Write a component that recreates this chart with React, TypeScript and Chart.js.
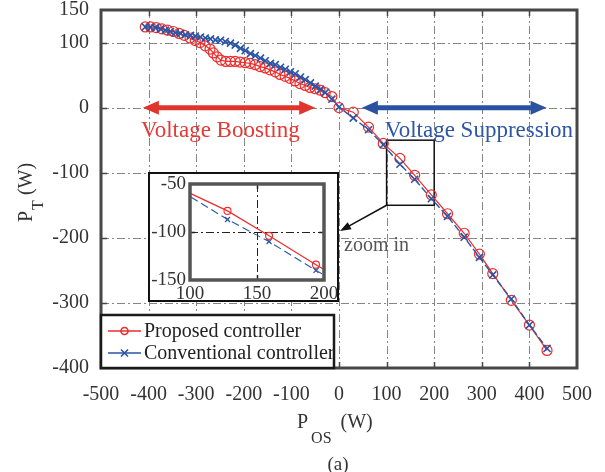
import React, { useEffect, useRef } from "react";
import { Chart, registerables } from "chart.js";

Chart.register(...registerables);

// ---------------- Data ----------------
const seriesLabels = ["Proposed controller", "Conventional controller"];

const proposedX = [
  -407, -396, -384, -372, -360, -348, -336, -325, -313, -302, -292, -281, -271, -264, -256, -248,
  -238, -228, -218, -208, -197, -187, -176, -166, -155, -145, -134, -124, -113, -103, -92, -82,
  -71, -61, -50, -40, -29, -15, 0, 30, 62, 93, 128, 159, 194, 228, 263, 295, 323, 362, 400, 437,
];
const proposedY = [
  124, 124, 123, 121, 119, 117, 114, 111, 107, 103, 100, 95, 90, 84, 78, 73,
  71, 71, 71, 70, 69, 68, 66, 63, 61, 58, 55, 51, 48, 45, 41, 37,
  34, 31, 29, 27, 23, 17, 0, -7, -30, -55, -78, -104, -134, -163, -193, -225, -255, -296, -334, -373,
];

const conventionalX = [
  -407, -396, -386, -375, -365, -354, -344, -333, -323, -312, -302, -291, -281, -270, -260, -249,
  -239, -228, -218, -207, -197, -186, -176, -165, -155, -144, -134, -123, -113, -102, -92, -81,
  -71, -60, -50, -39, -29, -15, 0, 30, 62, 93, 128, 159, 194, 228, 263, 295, 323, 362, 400, 437,
];
const conventionalY = [
  124, 123.5, 123, 121, 119, 117, 115, 114, 112, 111, 110, 108.5, 107, 105.5, 104, 103.5,
  101.5, 99, 96, 91, 87.5, 83, 80, 76, 72, 68, 66, 62, 59, 55, 52, 47,
  43, 38, 33, 28, 23, 13, 1, -16, -34, -57, -87, -110, -140, -167, -199, -230, -257, -294, -334, -370,
];

const xTicks = [-500, -400, -300, -200, -100, 0, 100, 200, 300, 400, 500];
const yTicks = [150, 100, 0, -100, -200, -300, -400];
const insetXTicks = [100, 150, 200];
const insetYTicks = [-50, -100, -150];

const boostRange = [-412, -50];
const suppressRange = [48, 436];
const zoomBoxX = [100, 200];
const zoomBoxY = [-150, -50];

const annotationTexts = ["Voltage Boosting", "Voltage Suppression", "zoom in"];

// ---------------- Styles ----------------
const FONT = '"Liberation Serif", "Times New Roman", serif';
const RED = "#ee2c2c";
const BLUE = "#2a55a5";
const ARROW_RED = "#e0342c";
const ARROW_BLUE = "#2b52a0";
const AXIS = "#474747";
const TEXT = "#333333";
const GRID = "#858585";
const GRID_DASH = [8, 3, 2, 3];

function drawDoubleArrow(ctx: CanvasRenderingContext2D, x1: number, x2: number, y: number, color: string) {
  const headLen = 16;
  const headHalf = 7;
  ctx.save();
  ctx.setLineDash([]);
  ctx.strokeStyle = color;
  ctx.fillStyle = color;
  ctx.lineWidth = 5;
  ctx.beginPath();
  ctx.moveTo(x1 + headLen - 2, y);
  ctx.lineTo(x2 - headLen + 2, y);
  ctx.stroke();
  ctx.beginPath();
  ctx.moveTo(x1, y);
  ctx.lineTo(x1 + headLen, y - headHalf);
  ctx.lineTo(x1 + headLen, y + headHalf);
  ctx.closePath();
  ctx.fill();
  ctx.beginPath();
  ctx.moveTo(x2, y);
  ctx.lineTo(x2 - headLen, y - headHalf);
  ctx.lineTo(x2 - headLen, y + headHalf);
  ctx.closePath();
  ctx.fill();
  ctx.restore();
}

const mainDecor = {
  id: "mainDecor",
  beforeDatasetsDraw(chart: any) {
    const { ctx, chartArea: a, scales } = chart;
    const xs = scales.x;
    const ys = scales.y;
    ctx.save();
    // grid
    ctx.strokeStyle = GRID;
    ctx.lineWidth = 1;
    ctx.setLineDash(GRID_DASH);
    xTicks.slice(1, -1).forEach((v) => {
      const px = Math.round(xs.getPixelForValue(v)) + 0.5;
      ctx.beginPath();
      ctx.moveTo(px, a.top);
      ctx.lineTo(px, a.bottom);
      ctx.stroke();
    });
    yTicks.slice(1, -1).forEach((v) => {
      const py = Math.round(ys.getPixelForValue(v)) + 0.5;
      ctx.beginPath();
      ctx.moveTo(a.left, py);
      ctx.lineTo(a.right, py);
      ctx.stroke();
    });
    ctx.setLineDash([]);
    // inward ticks
    ctx.strokeStyle = AXIS;
    ctx.lineWidth = 1.5;
    const tl = 6;
    xTicks.slice(1, -1).forEach((v) => {
      const px = Math.round(xs.getPixelForValue(v)) + 0.5;
      ctx.beginPath();
      ctx.moveTo(px, a.bottom);
      ctx.lineTo(px, a.bottom - tl);
      ctx.moveTo(px, a.top);
      ctx.lineTo(px, a.top + tl);
      ctx.stroke();
    });
    yTicks.slice(1, -1).forEach((v) => {
      const py = Math.round(ys.getPixelForValue(v)) + 0.5;
      ctx.beginPath();
      ctx.moveTo(a.left, py);
      ctx.lineTo(a.left + tl, py);
      ctx.moveTo(a.right, py);
      ctx.lineTo(a.right - tl, py);
      ctx.stroke();
    });
    // zoom rectangle
    const rx1 = xs.getPixelForValue(zoomBoxX[0]);
    const rx2 = xs.getPixelForValue(zoomBoxX[1]);
    const ry1 = ys.getPixelForValue(zoomBoxY[1]);
    const ry2 = ys.getPixelForValue(zoomBoxY[0]);
    ctx.strokeStyle = "#111";
    ctx.lineWidth = 1.5;
    ctx.strokeRect(rx1, ry1, rx2 - rx1, ry2 - ry1);
    // arrows
    const y0 = ys.getPixelForValue(0);
    drawDoubleArrow(ctx, xs.getPixelForValue(boostRange[0]), xs.getPixelForValue(boostRange[1]), y0, ARROW_RED);
    drawDoubleArrow(ctx, xs.getPixelForValue(suppressRange[0]), xs.getPixelForValue(suppressRange[1]), y0, ARROW_BLUE);
    // labels
    ctx.font = `23px ${FONT}`;
    ctx.textAlign = "left";
    ctx.textBaseline = "alphabetic";
    ctx.fillStyle = "#e23a34";
    ctx.fillText(annotationTexts[0], 141, 137);
    ctx.fillStyle = "#2d56a3";
    ctx.fillText(annotationTexts[1], 385, 137);
    ctx.restore();
  },
  afterDatasetsDraw(chart: any) {
    const { ctx, chartArea: a, scales } = chart;
    const xs = scales.x;
    const ys = scales.y;
    ctx.save();
    // border
    ctx.strokeStyle = AXIS;
    ctx.lineWidth = 3;
    ctx.strokeRect(a.left, a.top, a.right - a.left, a.bottom - a.top);

    // zoom-in arrow
    const sx = xs.getPixelForValue(zoomBoxX[0]);
    const sy = ys.getPixelForValue(zoomBoxY[0]);
    const ex = 340;
    const ey = 231;
    const ang = Math.atan2(ey - sy, ex - sx);
    ctx.strokeStyle = "#111";
    ctx.fillStyle = "#111";
    ctx.lineWidth = 1.5;
    ctx.beginPath();
    ctx.moveTo(sx, sy);
    ctx.lineTo(ex - 8 * Math.cos(ang), ey - 8 * Math.sin(ang));
    ctx.stroke();
    ctx.beginPath();
    ctx.moveTo(ex, ey);
    ctx.lineTo(ex - 11 * Math.cos(ang) + 4 * Math.sin(ang), ey - 11 * Math.sin(ang) - 4 * Math.cos(ang));
    ctx.lineTo(ex - 11 * Math.cos(ang) - 4 * Math.sin(ang), ey - 11 * Math.sin(ang) + 4 * Math.cos(ang));
    ctx.closePath();
    ctx.fill();
    ctx.font = `20px ${FONT}`;
    ctx.fillStyle = "#555";
    ctx.textAlign = "left";
    ctx.textBaseline = "alphabetic";
    ctx.fillText(annotationTexts[2], 344, 251);

    // legend
    const lx = a.left;
    const ly = 315;
    const lw = 233;
    const lh = a.bottom - ly;
    ctx.fillStyle = "#fff";
    ctx.fillRect(lx, ly, lw, lh);
    ctx.strokeStyle = "#1a1a1a";
    ctx.lineWidth = 2.5;
    ctx.strokeRect(lx, ly, lw, lh);
    const rows = [
      { y: 331, color: RED, marker: "circle" },
      { y: 353, color: BLUE, marker: "cross" },
    ];
    rows.forEach((r, i) => {
      ctx.strokeStyle = r.color;
      ctx.lineWidth = 1.5;
      ctx.beginPath();
      ctx.moveTo(lx + 7, r.y);
      ctx.lineTo(lx + 40, r.y);
      ctx.stroke();
      const cx = lx + 23.5;
      ctx.lineWidth = 1.6;
      ctx.beginPath();
      if (r.marker === "circle") {
        ctx.arc(cx, r.y, 3.5, 0, Math.PI * 2);
      } else {
        ctx.moveTo(cx - 3.5, r.y - 3.5);
        ctx.lineTo(cx + 3.5, r.y + 3.5);
        ctx.moveTo(cx + 3.5, r.y - 3.5);
        ctx.lineTo(cx - 3.5, r.y + 3.5);
      }
      ctx.stroke();
      ctx.fillStyle = "#222";
      ctx.font = `20px ${FONT}`;
      ctx.textBaseline = "alphabetic";
      ctx.fillText(seriesLabels[i], lx + 43, r.y + 6);
    });

    // axis titles
    ctx.fillStyle = TEXT;
    ctx.textBaseline = "alphabetic";
    // x title: P_OS (W)
    const cx = (a.left + a.right) / 2;
    let x = cx - 42;
    ctx.font = `20px ${FONT}`;
    ctx.fillText("P", x, 428);
    x += ctx.measureText("P").width + 3;
    ctx.font = `16px ${FONT}`;
    ctx.fillText("OS", x, 443);
    x += ctx.measureText("OS").width + 9;
    ctx.font = `20px ${FONT}`;
    ctx.fillText("(W)", x, 428);
    // (a)
    ctx.font = `19px ${FONT}`;
    ctx.textAlign = "center";
    ctx.fillText("(a)", cx - 1, 470);
    // y title: P_T (W)
    ctx.save();
    ctx.translate(32, 222);
    ctx.rotate(-Math.PI / 2);
    ctx.textAlign = "left";
    let t = 0;
    ctx.font = `20px ${FONT}`;
    ctx.fillText("P", t, 0);
    t += ctx.measureText("P").width + 1;
    ctx.font = `16px ${FONT}`;
    ctx.fillText("T", t, 11);
    t += ctx.measureText("T").width + 5;
    ctx.font = `20px ${FONT}`;
    ctx.fillText("(W)", t, 0);
    ctx.restore();

    ctx.restore();
  },
};

const insetDecor = {
  id: "insetDecor",
  beforeDraw(chart: any) {
    const { ctx, width, height } = chart;
    ctx.save();
    ctx.fillStyle = "#fff";
    ctx.fillRect(0, 0, width, height);
    ctx.restore();
  },
  beforeDatasetsDraw(chart: any) {
    const { ctx, chartArea: a, scales } = chart;
    ctx.save();
    ctx.strokeStyle = "#222";
    ctx.lineWidth = 1;
    ctx.setLineDash(GRID_DASH);
    const gx = Math.round(scales.x.getPixelForValue(insetXTicks[1])) + 0.5;
    const gy = Math.round(scales.y.getPixelForValue(insetYTicks[1])) + 0.5;
    ctx.beginPath();
    ctx.moveTo(gx, a.top);
    ctx.lineTo(gx, a.bottom);
    ctx.moveTo(a.left, gy);
    ctx.lineTo(a.right, gy);
    ctx.stroke();
    ctx.setLineDash([]);
    ctx.lineWidth = 1.5;
    ctx.beginPath();
    ctx.moveTo(gx, a.top);
    ctx.lineTo(gx, a.top + 5);
    ctx.moveTo(gx, a.bottom);
    ctx.lineTo(gx, a.bottom - 5);
    ctx.moveTo(a.left, gy);
    ctx.lineTo(a.left + 5, gy);
    ctx.moveTo(a.right, gy);
    ctx.lineTo(a.right - 5, gy);
    ctx.stroke();
    ctx.restore();
  },
  afterDatasetsDraw(chart: any) {
    const { ctx, chartArea: a, width, height } = chart;
    ctx.save();
    ctx.strokeStyle = "#555";
    ctx.lineWidth = 3.5;
    ctx.strokeRect(a.left, a.top, a.right - a.left, a.bottom - a.top);
    ctx.strokeStyle = "#111";
    ctx.lineWidth = 2;
    ctx.strokeRect(1, 1, width - 2, height - 2);
    ctx.restore();
  },
};

function makePoints(xs: number[], ys: number[]) {
  return xs.map((x, i) => ({ x, y: ys[i] }));
}

function zeroPad(s: any) {
  s.paddingTop = 0;
  s.paddingBottom = 0;
  s.paddingLeft = 0;
  s.paddingRight = 0;
}

export default function App() {
  const mainRef = useRef<HTMLCanvasElement>(null);
  const insetRef = useRef<HTMLCanvasElement>(null);

  useEffect(() => {
    const tickFont = { family: FONT, size: 20 };
    const main = new Chart(mainRef.current!, {
      type: "scatter",
      data: {
        datasets: [
          {
            label: seriesLabels[0],
            data: makePoints(proposedX, proposedY),
            showLine: true,
            borderColor: RED,
            borderWidth: 1.2,
            pointStyle: "circle",
            pointRadius: 5,
            pointBorderColor: RED,
            pointBackgroundColor: "rgba(0,0,0,0)",
            pointBorderWidth: 1.2,
            order: 2,
          },
          {
            label: seriesLabels[1],
            data: makePoints(conventionalX, conventionalY),
            showLine: true,
            borderColor: BLUE,
            borderDash: [7, 3],
            borderWidth: 1.4,
            pointStyle: "crossRot",
            pointRadius: 5,
            pointBorderColor: BLUE,
            pointBorderWidth: 1.6,
            order: 1,
          },
        ],
      },
      options: {
        animation: false,
        responsive: false,
        layout: { padding: { top: 10, right: 28, left: 0, bottom: 0 } },
        plugins: { legend: { display: false }, tooltip: { enabled: false } },
        scales: {
          x: {
            type: "linear",
            min: -500,
            max: 500,
            afterBuildTicks: (s: any) => {
              s.ticks = xTicks.map((v) => ({ value: v }));
            },
            afterFit: (s: any) => {
              s.height = 104;
              zeroPad(s);
            },
            grid: { display: false, drawTicks: false },
            border: { display: false },
            ticks: { font: tickFont, color: TEXT, padding: 15, maxRotation: 0, autoSkip: false },
          },
          y: {
            type: "linear",
            min: -400,
            max: 150,
            afterBuildTicks: (s: any) => {
              s.ticks = yTicks.map((v) => ({ value: v }));
            },
            afterFit: (s: any) => {
              s.width = 101;
              zeroPad(s);
            },
            grid: { display: false, drawTicks: false },
            border: { display: false },
            ticks: { font: tickFont, color: TEXT, padding: 12, autoSkip: false },
          },
        },
      },
      plugins: [mainDecor],
    } as any);

    const inset = new Chart(insetRef.current!, {
      type: "scatter",
      data: {
        datasets: [
          {
            label: seriesLabels[0],
            data: makePoints(proposedX, proposedY),
            showLine: true,
            borderColor: RED,
            borderWidth: 1.2,
            pointStyle: "circle",
            pointRadius: 3.5,
            pointBorderColor: RED,
            pointBackgroundColor: "rgba(0,0,0,0)",
            pointBorderWidth: 1.1,
            order: 2,
          },
          {
            label: seriesLabels[1],
            data: makePoints(conventionalX, conventionalY),
            showLine: true,
            borderColor: BLUE,
            borderDash: [8, 4],
            borderWidth: 1.1,
            pointStyle: "crossRot",
            pointRadius: 3.5,
            pointBorderColor: BLUE,
            pointBorderWidth: 1.3,
            order: 1,
          },
        ],
      },
      options: {
        animation: false,
        responsive: false,
        layout: { padding: { top: 12, right: 15, left: 0, bottom: 0 } },
        plugins: { legend: { display: false }, tooltip: { enabled: false } },
        scales: {
          x: {
            type: "linear",
            min: 100,
            max: 200,
            afterBuildTicks: (s: any) => {
              s.ticks = insetXTicks.map((v) => ({ value: v }));
            },
            afterFit: (s: any) => {
              s.height = 22;
              zeroPad(s);
            },
            grid: { display: false, drawTicks: false },
            border: { display: false },
            ticks: { font: { family: FONT, size: 19 }, color: TEXT, padding: 3, maxRotation: 0, autoSkip: false },
          },
          y: {
            type: "linear",
            min: -150,
            max: -50,
            afterBuildTicks: (s: any) => {
              s.ticks = insetYTicks.map((v) => ({ value: v }));
            },
            afterFit: (s: any) => {
              s.width = 42;
              zeroPad(s);
            },
            grid: { display: false, drawTicks: false },
            border: { display: false },
            ticks: { font: { family: FONT, size: 19 }, color: TEXT, padding: 4, autoSkip: false },
          },
        },
      },
      plugins: [insetDecor],
    } as any);

    return () => {
      main.destroy();
      inset.destroy();
    };
  }, []);

  return (
    <div style={{ position: "absolute", left: 0, top: 0, width: 605, height: 472, background: "#fff" }}>
      <canvas ref={mainRef} width={605} height={472} style={{ position: "absolute", left: 0, top: 0 }} />
      <canvas ref={insetRef} width={191} height={130} style={{ position: "absolute", left: 148, top: 172 }} />
    </div>
  );
}
